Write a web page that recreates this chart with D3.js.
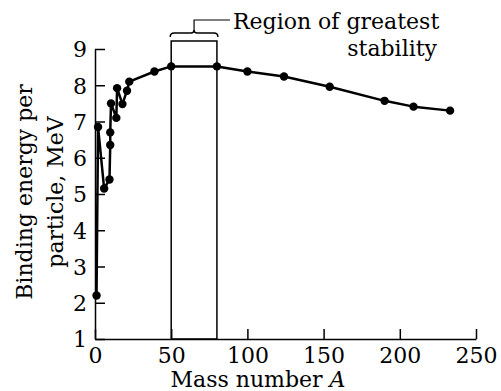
<!DOCTYPE html>
<html>
<head>
<meta charset="utf-8">
<script src="https://cdn.jsdelivr.net/npm/d3@7"></script>
<style>
  body { margin: 0; background: #fff; }
  svg text { font-family: "DejaVu Serif", "Liberation Serif", serif; fill: #000; }
</style>
</head>
<body>
<div id="chart"></div>
<script>
// data
const massNumbers = [1, 2, 6, 9.5, 10, 10, 10.5, 14, 14.5, 18, 21, 22.5, 39, 50, 80, 100, 124, 154, 190, 209, 233];
const bindingEnergies = [2.2, 6.85, 5.15, 5.4, 6.35, 6.7, 7.5, 7.1, 7.92, 7.48, 7.85, 8.1, 8.38, 8.52, 8.52, 8.38, 8.24, 7.96, 7.57, 7.41, 7.3];
const xTicks = [0, 50, 100, 150, 200, 250];
const yTicks = [1, 2, 3, 4, 5, 6, 7, 8, 9];
const stableRegion = [50, 80];
const regionLabel = ["Region of greatest", "stability"];

const width = 501, height = 391;
const points = massNumbers.map((a, i) => ({a: a, e: bindingEnergies[i]}));

const x = d3.scaleLinear().domain([0, 250]).range([95, 476]);
const y = d3.scaleLinear().domain([1, 9]).range([339, 49]);

const svg = d3.select("#chart").append("svg")
    .attr("width", width)
    .attr("height", height);

// stability box (drawn first so the curve sits on top)
svg.append("rect")
    .attr("x", x(stableRegion[0]))
    .attr("y", 41)
    .attr("width", x(stableRegion[1]) - x(stableRegion[0]))
    .attr("height", y(1) - 41)
    .attr("fill", "none")
    .attr("stroke", "#000")
    .attr("stroke-width", 1.5);

// curly brace over the box + leader to the label
const bx0 = x(stableRegion[0]) - 1, bx1 = x(stableRegion[1]) + 1;
const bm = (bx0 + bx1) / 2;
svg.append("path")
    .attr("d", `M${bx0},37 Q${bx0},33 ${bx0 + 4},33 L${bm - 3},33 Q${bm},33 ${bm},30
                Q${bm},33 ${bm + 3},33 L${bx1 - 4},33 Q${bx1},33 ${bx1},37`)
    .attr("fill", "none")
    .attr("stroke", "#000")
    .attr("stroke-width", 1.5);
svg.append("path")
    .attr("d", `M${bm},30 V20 H230`)
    .attr("fill", "none")
    .attr("stroke", "#000")
    .attr("stroke-width", 1.2);

svg.append("text")
    .attr("x", 233).attr("y", 29)
    .attr("font-size", 22)
    .text(regionLabel[0]);
svg.append("text")
    .attr("x", 437).attr("y", 56)
    .attr("text-anchor", "end")
    .attr("font-size", 22)
    .text(regionLabel[1]);

// axes, ticks pointing inward
const xAxis = svg.append("g")
    .attr("transform", `translate(0,${y(1)})`)
    .call(d3.axisBottom(x).tickValues(xTicks).tickSizeInner(-10).tickSizeOuter(0).tickPadding(8));
const yAxis = svg.append("g")
    .attr("transform", `translate(${x(0)},0)`)
    .call(d3.axisLeft(y).tickValues(yTicks).tickSizeInner(-10).tickSizeOuter(0).tickPadding(8));

[xAxis, yAxis].forEach(g => {
    g.attr("font-family", null).attr("font-size", null);
    g.selectAll("path, line").attr("stroke", "#000").attr("stroke-width", 1.5);
    g.selectAll("text")
        .attr("fill", "#000")
        .attr("font-size", 22);
});
yAxis.selectAll("text").attr("dy", "0.36em");

// the curve
const line = d3.line().x(d => x(d.a)).y(d => y(d.e));
svg.append("path")
    .datum(points)
    .attr("d", line)
    .attr("fill", "none")
    .attr("stroke", "#000")
    .attr("stroke-width", 2.5)
    .attr("stroke-linejoin", "round");

svg.append("g")
    .selectAll("circle")
    .data(points)
    .join("circle")
    .attr("cx", d => x(d.a))
    .attr("cy", d => y(d.e))
    .attr("r", 4.2)
    .attr("fill", "#000");

// axis titles
svg.append("text")
    .attr("x", 258).attr("y", 387)
    .attr("text-anchor", "middle")
    .attr("font-size", 22)
    .call(t => {
        t.append("tspan").text("Mass number ");
        t.append("tspan").attr("font-style", "italic").text("A");
    });

const yTitle = svg.append("text")
    .attr("transform", "translate(0,192) rotate(-90)")
    .attr("text-anchor", "middle")
    .attr("font-size", 22);
yTitle.append("tspan").attr("x", 0).attr("y", 32).text("Binding energy per");
yTitle.append("tspan").attr("x", 0).attr("y", 63).text("particle, MeV");
</script>
</body>
</html>
